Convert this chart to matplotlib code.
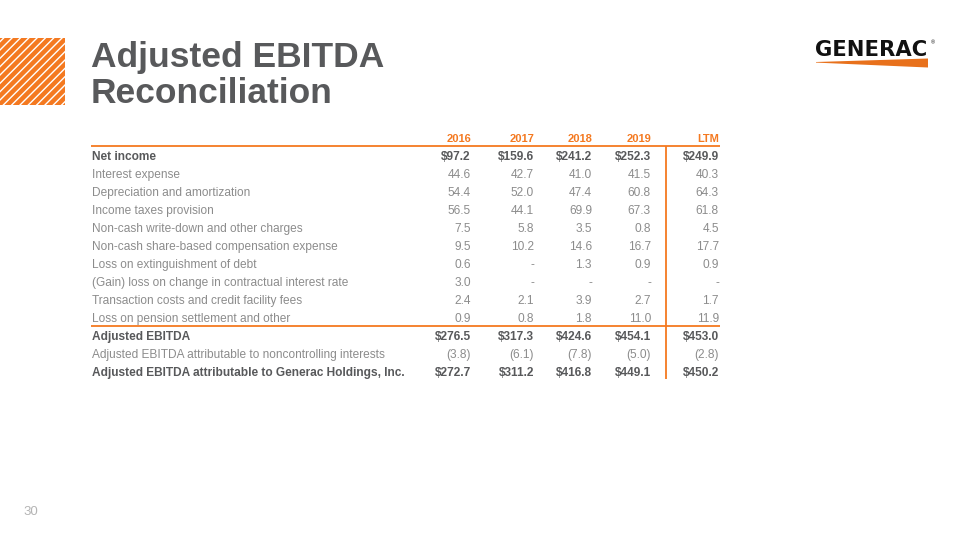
import matplotlib
matplotlib.use("Agg")
import matplotlib.pyplot as plt
from matplotlib.patches import Rectangle, Polygon

# ---------------- data ----------------
columns = ["2016", "2017", "2018", "2019", "LTM"]
row_labels = [
    "Net income",
    "Interest expense",
    "Depreciation and amortization",
    "Income taxes provision",
    "Non-cash write-down and other charges",
    "Non-cash share-based compensation expense",
    "Loss on extinguishment of debt",
    "(Gain) loss on change in contractual interest rate",
    "Transaction costs and credit facility fees",
    "Loss on pension settlement and other",
    "Adjusted EBITDA",
    "Adjusted EBITDA attributable to noncontrolling interests",
    "Adjusted EBITDA attributable to Generac Holdings, Inc.",
]
net_income = [97.2, 159.6, 241.2, 252.3, 249.9]
interest_expense = [44.6, 42.7, 41.0, 41.5, 40.3]
depreciation = [54.4, 52.0, 47.4, 60.8, 64.3]
income_taxes = [56.5, 44.1, 69.9, 67.3, 61.8]
writedown = [7.5, 5.8, 3.5, 0.8, 4.5]
share_based = [9.5, 10.2, 14.6, 16.7, 17.7]
extinguishment = [0.6, None, 1.3, 0.9, 0.9]
gain_loss_rate = [3.0, None, None, None, None]
transaction_costs = [2.4, 2.1, 3.9, 2.7, 1.7]
pension = [0.9, 0.8, 1.8, 11.0, 11.9]
adjusted_ebitda = [276.5, 317.3, 424.6, 454.1, 453.0]
noncontrolling = [-3.8, -6.1, -7.8, -5.0, -2.8]
attributable = [272.7, 311.2, 416.8, 449.1, 450.2]

rows = [net_income, interest_expense, depreciation, income_taxes, writedown,
        share_based, extinguishment, gain_loss_rate, transaction_costs, pension,
        adjusted_ebitda, noncontrolling, attributable]
bold_rows = {0, 10, 12}

title_lines = ["Adjusted EBITDA", "Reconciliation"]
page_number = "30"

# ---------------- style ----------------
ORANGE = "#f47920"
DARK = "#58595b"
LIGHT = "#8c8c8c"
FONT = "Liberation Sans"

plt.rcParams["hatch.linewidth"] = 1.0

fig = plt.figure(figsize=(9.59, 5.4), dpi=100)
ax = fig.add_axes([0, 0, 1, 1])
ax.set_xlim(0, 959)
ax.set_ylim(540, 0)
ax.axis("off")

# striped orange square
ax.add_patch(Rectangle((0, 38), 65, 67, facecolor=ORANGE, edgecolor="white",
                       hatch="////", linewidth=0))

# title
for i, line in enumerate(title_lines):
    ax.text(91, 67 + i * 36, line, fontsize=25.5, fontweight="bold", color=DARK,
            family=FONT, va="baseline", ha="left")

# logo
ax.text(815, 56, "GENERAC", fontsize=15.2, fontweight="bold", color="#111111",
        family="DejaVu Sans", va="baseline", ha="left")
ax.text(931, 43, "®", fontsize=4, color="#111111", family=FONT, va="center", ha="left")
ax.add_patch(Polygon([(816, 62), (928, 58.5), (928, 67.5), (816, 62.6)],
                     closed=True, facecolor="#e8711c", edgecolor="none"))

# table
col_right = [471, 534, 592, 651, 719]
header_base = 142
row_base0 = 160
row_step = 18
FS = 8.6

for x, c in zip(col_right, columns):
    ax.text(x, header_base, c, fontsize=8, fontweight="bold", color=ORANGE,
            family=FONT, ha="right", va="baseline")

ax.plot([91, 720], [146, 146], color=ORANGE, lw=1.3, solid_capstyle="butt")
ax.plot([91, 720], [326, 326], color=ORANGE, lw=1.3, solid_capstyle="butt")
ax.plot([666, 666], [146, 379], color=ORANGE, lw=1.3, solid_capstyle="butt")


def fmt(v, dollar):
    if v is None:
        return "-"
    if v < 0:
        return f"({abs(v):.1f})"
    return (f"${v:.1f}" if dollar else f"{v:.1f}")


for i, (lab, vals) in enumerate(zip(row_labels, rows)):
    y = row_base0 + i * row_step
    bold = i in bold_rows
    color = DARK if bold else LIGHT
    weight = "bold" if bold else "normal"
    ax.text(92, y, lab, fontsize=FS, fontweight=weight,
            color=color, family=FONT, ha="left", va="baseline")
    for x, v in zip(col_right, vals):
        ax.text(x, y, fmt(v, bold), fontsize=FS, fontweight=weight, color=color,
                family=FONT, ha="right", va="baseline")

ax.text(23, 515, page_number, fontsize=9.5, color="#b4b4b4", family=FONT,
        ha="left", va="baseline")

fig.savefig("out.png", dpi=100)
